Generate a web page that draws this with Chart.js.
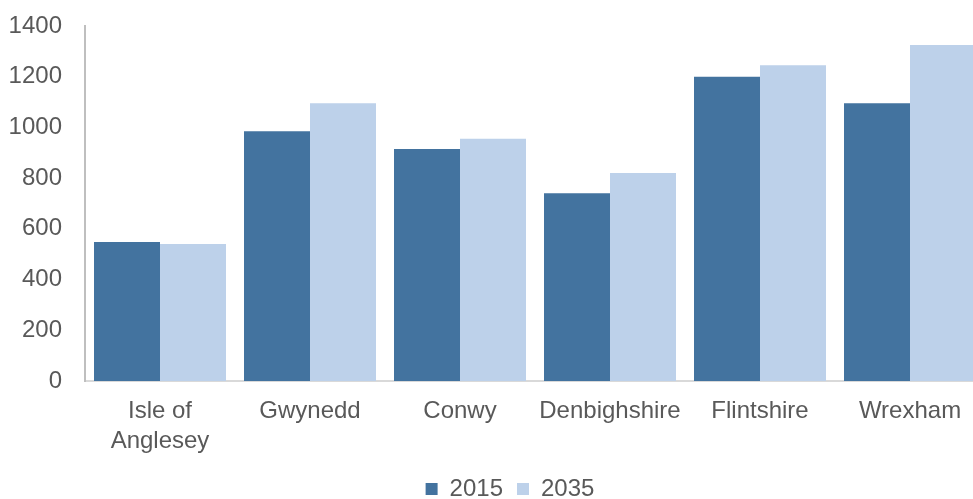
<!DOCTYPE html>
<html>
<head>
<meta charset="utf-8">
<script src="https://cdn.jsdelivr.net/npm/chart.js@4"></script>
<style>
  body { margin: 0; background: #fff; }
  #wrap { width: 973px; height: 499px; overflow: hidden; }
  #box { width: 1020px; height: 499px; position: relative; }
</style>
</head>
<body>
<div id="wrap"><div id="box"><canvas id="popChart"></canvas></div></div>
<script>
// Areas and values for each year
const areas = [["Isle of", "Anglesey"], "Gwynedd", "Conwy", "Denbighshire", "Flintshire", "Wrexham"];
const values2015 = [548, 985, 915, 740, 1200, 1095];
const values2035 = [540, 1095, 955, 820, 1245, 1325];
const yTicks = [0, 200, 400, 600, 800, 1000, 1200, 1400];

const textColor = "#595959";
const fontFamily = "'Liberation Sans', Arial, sans-serif";

const ctx = document.getElementById("popChart").getContext("2d");
new Chart(ctx, {
  type: "bar",
  data: {
    labels: areas,
    datasets: [
      {
        label: "2015",
        data: values2015,
        backgroundColor: "#43739f",
        categoryPercentage: 0.88,
        barPercentage: 1.0,
      },
      {
        label: "2035",
        data: values2035,
        backgroundColor: "#bdd1ea",
        categoryPercentage: 0.88,
        barPercentage: 1.0,
      },
    ],
  },
  options: {
    responsive: true,
    maintainAspectRatio: false,
    animation: false,
    layout: { padding: { top: 26, bottom: -12 } },
    plugins: {
      tooltip: { enabled: false },
      legend: {
        position: "bottom",
        labels: {
          boxWidth: 12,
          boxHeight: 12,
          padding: 14,
          color: textColor,
          font: { family: fontFamily, size: 24 },
        },
      },
    },
    scales: {
      x: {
        grid: { display: false },
        border: { display: true, color: "#d9d9d9", width: 2 },
        ticks: {
          color: textColor,
          padding: 7,
          maxRotation: 0,
          autoSkip: false,
          font: { family: fontFamily, size: 24, lineHeight: 1.25 },
        },
      },
      y: {
        min: 0,
        max: 1400,
        afterBuildTicks: (axis) => {
          axis.ticks = yTicks.map((v) => ({ value: v }));
        },
        afterFit: (axis) => {
          axis.width = 85;
          axis.paddingTop = 0;
          axis.paddingBottom = 0;
        },
        grid: { display: false },
        border: { display: true, color: "#bfbfbf", width: 2 },
        ticks: {
          color: textColor,
          padding: 15,
          font: { family: fontFamily, size: 24 },
          callback: (v) => String(v),
        },
      },
      // empty axis on the right keeps room so the plot ends at the edge
      yRight: {
        position: "right",
        display: true,
        grid: { display: false },
        border: { display: false },
        ticks: { display: false },
        afterFit: (axis) => {
          axis.width = 35;
          axis.paddingTop = 0;
          axis.paddingBottom = 0;
        },
      },
    },
  },
});
</script>
</body>
</html>
